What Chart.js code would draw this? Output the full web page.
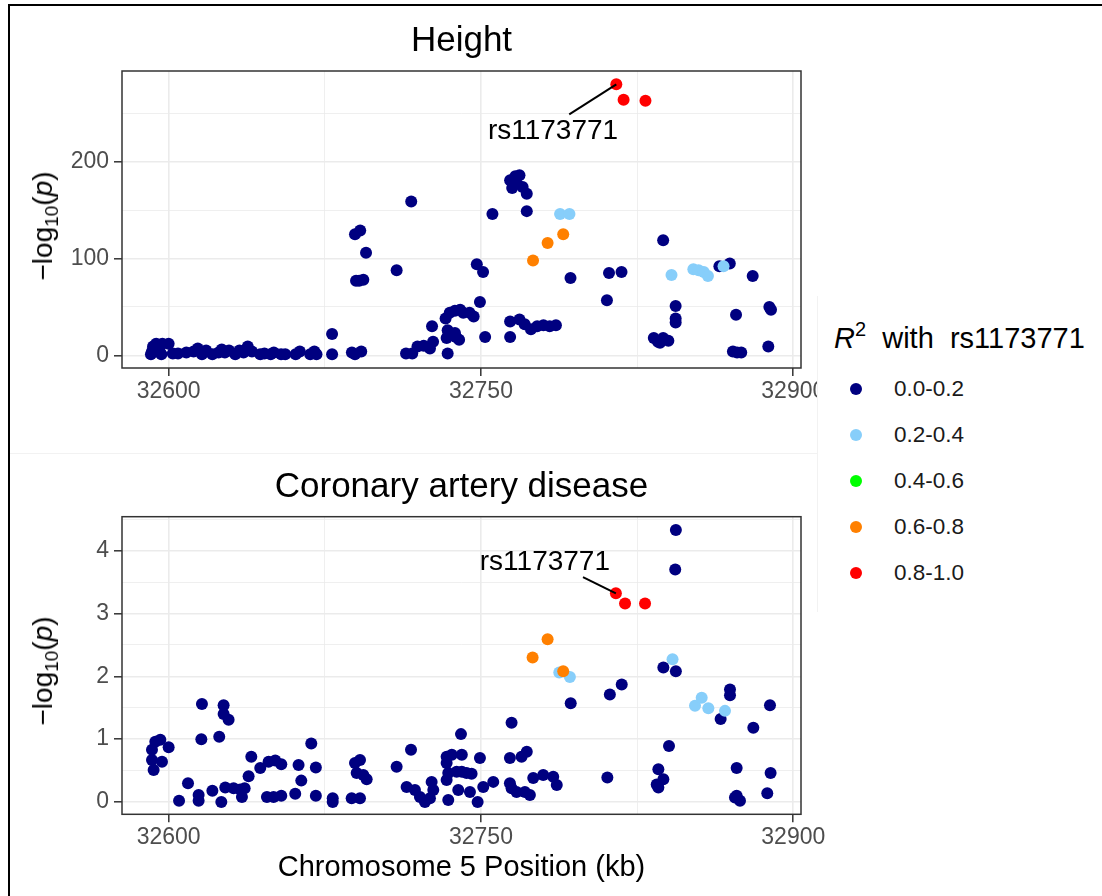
<!DOCTYPE html>
<html>
<head>
<meta charset="utf-8">
<script src="https://cdn.jsdelivr.net/npm/chart.js@4.4.1/dist/chart.umd.min.js"></script>
<style>
  body { margin: 0; background: #fff; font-family: "Liberation Sans", Arial, sans-serif; }
  #page { position: relative; width: 1102px; height: 896px; overflow: hidden; background: #fff; }
  .abs { position: absolute; white-space: nowrap; line-height: 1; }
  .ctr { transform: translate(-50%, -50%); }
  .ytitle { transform: translate(-50%, -50%) rotate(-90deg); font-size: 28px; color: #000; }
  .ytitle sub { font-size: 19px; vertical-align: -6px; line-height: 0; }
  #legend { position: absolute; left: 817px; top: 296px; width: 285px; height: 316px; background: #fff; border-left: 1px solid #f2f2f2; }
  .key { position: absolute; left: 32px; width: 12px; height: 12px; border-radius: 50%; }
  .klab { position: absolute; left: 76px; font-size: 22.5px; color: #1a1a1a; line-height: 1; }
</style>
</head>
<body>
<div id="page">
  <div class="abs" style="left:8px; top:4px; width:1092px; height:900px; border:2px solid #000; border-bottom:none;"></div>
  <div class="abs" style="left:10px; top:453px; width:807px; height:1px; background:#f2f2f2;"></div>

  <canvas id="heightChart" width="817" height="440" style="position:absolute; left:0; top:0;"></canvas>
  <canvas id="cadChart" width="840" height="456" style="position:absolute; left:0; top:440px;"></canvas>

  <div class="abs ctr" style="left:461.5px; top:38px; font-size:35px;">Height</div>
  <div class="abs ctr" style="left:461.5px; top:484px; font-size:35px;">Coronary artery disease</div>
  <div class="abs ytitle" style="left:43px; top:226px;">&minus;log<sub>10</sub>(<i>p</i>)</div>
  <div class="abs ytitle" style="left:43px; top:671px;">&minus;log<sub>10</sub>(<i>p</i>)</div>
  <div class="abs ctr" style="left:461.5px; top:866px; font-size:29px;">Chromosome 5 Position (kb)</div>

  <div id="legend">
    <div class="abs" style="left:16px; top:28px; font-size:29px;"><i>R</i><sup style="font-size:20px; vertical-align:12px; line-height:0;">2</sup>&nbsp;&nbsp;with&nbsp;&nbsp;rs1173771</div>
  </div>
</div>

<script>
// R2 classes (legend)
var r2Labels = ['0.0-0.2', '0.2-0.4', '0.4-0.6', '0.6-0.8', '0.8-1.0'];
var r2Colors = ['#000080', '#87CEFA', '#00FF00', '#FF8000', '#FF0000'];

// x ticks (kb)
var xTicks = [32600, 32675, 32750, 32825, 32900];
var xLabels = [32600, 32750, 32900];

// Height panel: [position kb, -log10 p]
var heightNavy = [
  [32591.5, 1], [32592, 4], [32592.5, 9], [32594, 12], [32595.5, 6], [32596.5, 1], [32597, 12],
  [32600, 12], [32602, 2], [32604.5, 2], [32608.5, 3], [32612, 4], [32614, 7], [32616, 1],
  [32618, 5], [32621, 1], [32624, 3], [32625.5, 6], [32627, 3], [32629, 5], [32632, 1],
  [32634, 5], [32636, 3], [32638, 9], [32640, 4], [32644, 1], [32646, 2], [32649, 1],
  [32650.5, 3], [32654, 1], [32656, 1], [32661, 1], [32663, 4], [32668, 1], [32670, 4],
  [32671, 1], [32678.5, 22], [32678.5, 1],
  [32688, 3], [32689.5, 1], [32692.5, 4], [32689.5, 125], [32692, 129], [32694.8, 106],
  [32690, 77], [32691.5, 77], [32693.5, 78], [32709.5, 88], [32716.5, 159],
  [32714, 2], [32717, 2], [32719.5, 9], [32722.5, 10], [32725.5, 7], [32727, 14], [32726.5, 30],
  [32733, 38], [32735, 44], [32737.5, 46], [32740, 47], [32741.5, 44], [32744.5, 44], [32746.5, 40],
  [32749.5, 55], [32734, 26], [32734.5, 20], [32737.5, 23], [32739.5, 16], [32733.5, 18], [32738, 19],
  [32734, 2], [32748, 94], [32751, 86], [32752, 19], [32755.5, 146], [32764, 19],
  [32764, 181], [32766.5, 185], [32768.5, 186], [32765, 173], [32767, 178], [32770, 174],
  [32772, 167], [32772, 149],
  [32764, 35], [32768.5, 37], [32771, 32], [32774, 27], [32777, 30], [32780, 31], [32783, 30], [32786, 31],
  [32793, 80], [32811.5, 85], [32817.5, 86], [32810.5, 57], [32837.5, 119],
  [32843.5, 51], [32843.5, 38], [32843.5, 34], [32833, 18], [32835, 14], [32837.5, 18], [32840, 15], [32836, 13],
  [32864.5, 92], [32869.5, 95], [32880.5, 82], [32872.5, 42], [32871, 4], [32873, 3], [32875, 3],
  [32888, 9], [32888.5, 50], [32889.3, 47]
];
var heightBlue = [[32788, 146], [32792.5, 146], [32841.5, 83], [32852, 89], [32854.5, 88], [32857, 86], [32859, 82], [32866.5, 92]];
var heightGreen = [];
var heightOrange = [[32775, 98], [32782, 116], [32789.5, 125]];
var heightRed = [[32815, 280], [32818.5, 264], [32829, 263]];

// Coronary artery disease panel: [position kb, -log10 p]
var cadNavy = [
  [32592.8, 0.51], [32592, 0.67], [32592, 0.83], [32593.6, 0.96], [32596, 0.99], [32596.8, 0.64],
  [32600, 0.87], [32605, 0.02], [32609.3, 0.30], [32614.4, 0.11], [32614.4, 0.02], [32616, 1.56],
  [32615.7, 1.0], [32621, 0.18], [32625.3, 0.0], [32626.4, 1.54], [32626.4, 1.40], [32628.8, 1.31],
  [32624.3, 1.04], [32627.2, 0.23], [32631.2, 0.22], [32634.4, 0.20], [32636.5, 0.22], [32635.2, 0.08],
  [32638.4, 0.41], [32639.7, 0.72], [32644, 0.54], [32648, 0.64], [32651.2, 0.66], [32654.1, 0.60],
  [32647.2, 0.08], [32650.4, 0.08], [32654.1, 0.10], [32660.8, 0.13], [32662.4, 0.59], [32663.7, 0.34],
  [32668.5, 0.93], [32670.7, 0.55], [32670.7, 0.10], [32678.8, 0.06], [32678.8, 0.0],
  [32687.9, 0.06], [32691.9, 0.06], [32689.5, 0.62], [32691.9, 0.67], [32690.3, 0.46], [32693.5, 0.43],
  [32695.1, 0.36], [32709.5, 0.56], [32716.4, 0.83], [32714.3, 0.24], [32718.3, 0.19], [32720.7, 0.08],
  [32723.1, 0.0], [32725.5, 0.06], [32726.3, 0.32], [32727.1, 0.19], [32734.3, 0.03],
  [32733.5, 0.72], [32736, 0.75], [32740.8, 0.75], [32733.5, 0.62], [32734.3, 0.46], [32733.5, 0.35],
  [32740.4, 1.08], [32738.3, 0.48], [32740.8, 0.48], [32743.1, 0.46], [32745.5, 0.45], [32739.1, 0.19],
  [32744.7, 0.16], [32749.5, 0.70], [32748.4, 0.0], [32751.1, 0.24], [32755.9, 0.32],
  [32764.7, 1.26], [32763.9, 0.70], [32769.5, 0.72], [32772, 0.80], [32763.9, 0.30], [32764.7, 0.22],
  [32767.1, 0.16], [32771.1, 0.16], [32773.5, 0.11], [32775.1, 0.38], [32779.9, 0.43], [32784.7, 0.40],
  [32786.4, 0.27], [32793.1, 1.57], [32811.9, 1.71], [32817.6, 1.87], [32810.7, 0.39],
  [32837.6, 2.14], [32843.6, 2.08], [32843.6, 4.33], [32843.3, 3.70], [32840.3, 0.89],
  [32835.2, 0.52], [32837.6, 0.36], [32834.4, 0.28], [32835.2, 0.23],
  [32865.1, 1.32], [32869.6, 1.79], [32869.6, 1.70], [32880.8, 1.18], [32888.8, 1.54],
  [32872.8, 0.54], [32872, 0.07], [32874.4, 0.02], [32872.8, 0.10], [32887.5, 0.14], [32889.1, 0.46]
];
var cadBlue = [[32787.6, 2.06], [32792.7, 1.99], [32842, 2.27], [32852.8, 1.53], [32856, 1.66], [32859.2, 1.49], [32867.2, 1.45]];
var cadGreen = [];
var cadOrange = [[32774.8, 2.30], [32782, 2.59], [32789.5, 2.08]];
var cadRed = [[32814.8, 3.32], [32819.2, 3.16], [32828.8, 3.16]];

var FONT = '"Liberation Sans", Arial, sans-serif';

// panel border + lead SNP label
var panelFrame = {
  id: 'panelFrame',
  afterDatasetsDraw: function(chart, args, opts) {
    var ctx = chart.ctx, a = chart.chartArea;
    var xs = chart.scales.x, ys = chart.scales.y;
    ctx.save();
    if (opts.label) {
      var l = opts.label;
      ctx.strokeStyle = '#000';
      ctx.lineWidth = 2;
      ctx.beginPath();
      ctx.moveTo(xs.getPixelForValue(l.from[0]), ys.getPixelForValue(l.from[1]));
      ctx.lineTo(xs.getPixelForValue(l.to[0]), ys.getPixelForValue(l.to[1]));
      ctx.stroke();
      ctx.fillStyle = '#000';
      ctx.font = '28px ' + FONT;
      ctx.textAlign = 'center';
      ctx.textBaseline = 'middle';
      ctx.fillText(l.text, xs.getPixelForValue(l.at[0]), ys.getPixelForValue(l.at[1]));
    }
    ctx.strokeStyle = '#333';
    ctx.lineWidth = 1.5;
    ctx.strokeRect(a.left, a.top, a.right - a.left, a.bottom - a.top);
    ctx.restore();
  }
};

function pts(arr) {
  return arr.map(function(p) { return {x: p[0], y: p[1]}; });
}

function makeChart(id, groups, yRange, yTicks, isMajorY, padTop, padRight, xHeight, label) {
  var sets = [];
  // red drawn last (on top)
  for (var i = groups.length - 1; i >= 0; i--) {
    sets.push({
      label: r2Labels[i],
      data: pts(groups[i]),
      backgroundColor: r2Colors[i],
      borderWidth: 0,
      pointRadius: 6,
      pointHoverRadius: 6
    });
  }
  return new Chart(document.getElementById(id), {
    type: 'scatter',
    data: { datasets: sets },
    options: {
      responsive: false,
      animation: false,
      events: [],
      layout: { padding: { top: padTop, left: 0, right: padRight, bottom: 0 } },
      plugins: {
        legend: { display: false },
        tooltip: { enabled: false },
        panelFrame: { label: label }
      },
      scales: {
        x: {
          type: 'linear',
          min: 32577.6,
          max: 32903.7,
          afterBuildTicks: function(s) { s.ticks = xTicks.map(function(v) { return {value: v}; }); },
          afterFit: function(s) { s.height = xHeight; s.paddingLeft = 0; s.paddingRight = 0; },
          border: { display: false },
          grid: {
            color: '#ebebeb',
            lineWidth: function(c) { return xLabels.indexOf(c.tick.value) >= 0 ? 1.6 : 0.8; },
            tickColor: function(c) { return xLabels.indexOf(c.tick.value) >= 0 ? '#333' : 'rgba(0,0,0,0)'; },
            tickLength: 8,
            tickWidth: 1.5
          },
          ticks: {
            autoSkip: false,
            maxRotation: 0,
            padding: 2,
            color: '#4d4d4d',
            font: { family: FONT, size: 23 },
            callback: function(v) { return xLabels.indexOf(v) >= 0 ? String(v) : ''; }
          }
        },
        y: {
          type: 'linear',
          min: yRange[0],
          max: yRange[1],
          afterBuildTicks: function(s) { s.ticks = yTicks.map(function(v) { return {value: v}; }); },
          afterFit: function(s) { s.width = 122; s.paddingTop = 0; s.paddingBottom = 0; },
          border: { display: false },
          grid: {
            color: '#ebebeb',
            lineWidth: function(c) { return isMajorY(c.tick.value) ? 1.6 : 0.8; },
            tickColor: function(c) { return isMajorY(c.tick.value) ? '#333' : 'rgba(0,0,0,0)'; },
            tickLength: 8,
            tickWidth: 1.5
          },
          ticks: {
            autoSkip: false,
            padding: 5,
            color: '#4d4d4d',
            font: { family: FONT, size: 23 },
            callback: function(v) { return isMajorY(v) ? String(v) : ''; }
          }
        }
      }
    },
    plugins: [panelFrame]
  });
}

makeChart('heightChart',
  [heightNavy, heightBlue, heightGreen, heightOrange, heightRed],
  [-13.1, 293.8], [0, 50, 100, 150, 200, 250],
  function(v) { return v % 100 === 0; },
  71, 16, 72,
  { text: 'rs1173771', at: [32784.6, 231], from: [32792.4, 249], to: [32815, 280] });

makeChart('cadChart',
  [cadNavy, cadBlue, cadGreen, cadOrange, cadRed],
  [-0.196, 4.54], [0, 0.5, 1, 1.5, 2, 2.5, 3, 3.5, 4, 4.5],
  function(v) { return Number.isInteger(v); },
  76.7, 39, 81.7,
  { text: 'rs1173771', at: [32780.7, 3.81], from: [32799, 3.58], to: [32814.8, 3.32] });

// legend keys
var legend = document.getElementById('legend');
r2Labels.forEach(function(lab, i) {
  var cy = 93 + i * 46;
  var dot = document.createElement('div');
  dot.className = 'key';
  dot.style.top = (cy - 6) + 'px';
  dot.style.background = r2Colors[i];
  legend.appendChild(dot);
  var t = document.createElement('div');
  t.className = 'klab';
  t.style.top = (cy - 11) + 'px';
  t.textContent = lab;
  legend.appendChild(t);
});
</script>
</body>
</html>
